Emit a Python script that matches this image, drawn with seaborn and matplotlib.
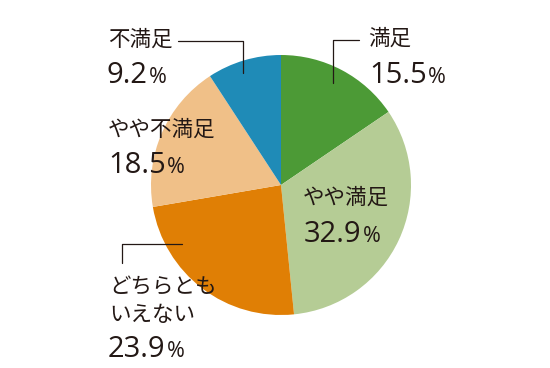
import matplotlib
matplotlib.use("Agg")
import matplotlib.pyplot as plt
import seaborn as sns

labels = ["満足", "やや満足", "どちらとも\nいえない", "やや不満足", "不満足"]
values = [15.5, 32.9, 23.9, 18.5, 9.2]
colors = ["#4c9a36", "#b5cc95", "#e07f05", "#f0c088", "#1f8bb7"]

sns.set_theme(style="white")
plt.rcParams["font.family"] = ["Noto Sans CJK JP", "DejaVu Sans"]

W, H = 550, 368
fig = plt.figure(figsize=(W / 100, H / 100), dpi=100)
ax = fig.add_axes([0, 0, 1, 1])
ax.set_xlim(0, W)
ax.set_ylim(0, H)
ax.set_aspect("equal")
ax.axis("off")

ax.pie(values, colors=colors, startangle=90, counterclock=False,
       center=(281, H - 185), radius=130, wedgeprops=dict(linewidth=0))
ax.set_xlim(0, W)
ax.set_ylim(0, H)

txt = "#231815"
# (label x, label center y, number x, number baseline y) in pixel coords from top
pos = [(368, 39, 369, 83),
       (303, 198, 304, 242),
       (109, 301, 108, 357),
       (108, 130, 108, 173),
       (108, 40, 107, 83)]

for lab, v, (lx, ly, nx, ny) in zip(labels, values, pos):
    ax.text(lx, H - ly, lab, fontsize=15.5, color=txt, va="center", ha="left",
            linespacing=1.3)
    t = ax.text(nx, H - ny, f"{v}", fontsize=21, color=txt, va="baseline", ha="left",
                family=["Open Sans", "DejaVu Sans"])
    fig.canvas.draw()
    bb = t.get_window_extent()
    ax.text(bb.x1 + 1, H - ny, "%", fontsize=15.5, color=txt, va="baseline", ha="left",
            family=["Open Sans", "DejaVu Sans"])

# leader lines
lk = dict(color=txt, lw=0.9)
ax.plot([359, 333, 333], [H - 40, H - 40, H - 83], **lk)
ax.plot([178, 243, 243], [H - 41, H - 41, H - 73], **lk)
ax.plot([122, 122, 182], [H - 263, H - 244, H - 244], **lk)

plt.savefig("out.png", dpi=100)
